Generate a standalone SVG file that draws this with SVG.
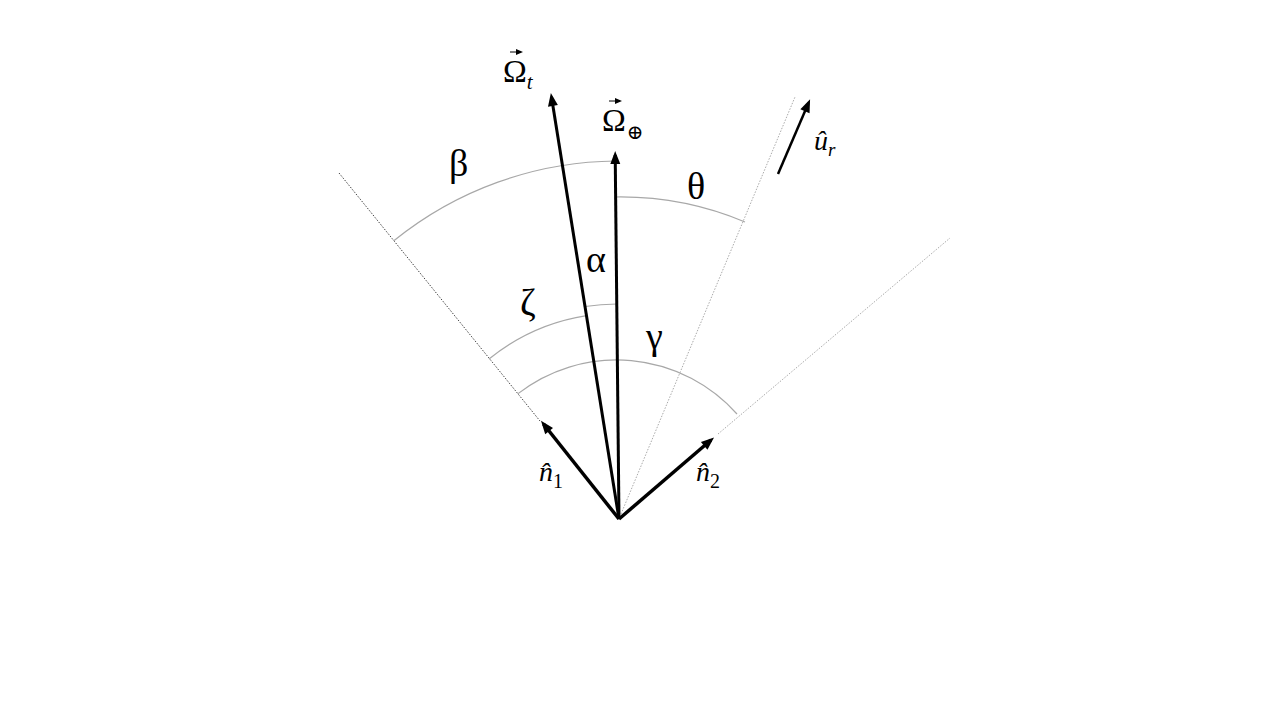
<svg xmlns="http://www.w3.org/2000/svg" width="1280" height="720" viewBox="0 0 1280 720">
<style>
.arc{fill:none;stroke:#a8a8a8;stroke-width:1.2}
.vec{stroke:#000;fill:none}
.lbl{font-family:'Times New Roman','Liberation Serif','DejaVu Serif',serif;fill:#000}
</style>
<defs>
<marker id="ah" markerUnits="userSpaceOnUse" markerWidth="14" markerHeight="10" refX="9" refY="5" orient="auto" overflow="visible">
<path d="M0,0 L13,5 L0,10 z" fill="#000"/>
</marker>
<marker id="ahs" markerUnits="userSpaceOnUse" markerWidth="8" markerHeight="6" refX="5" refY="3" orient="auto" overflow="visible">
<path d="M0,0 L7,3 L0,6 z" fill="#000"/>
</marker>
</defs>
<rect x="0" y="0" width="1280" height="720" fill="#fff"/>
<g id="guides" fill="none" stroke-width="1" stroke-dasharray="1.5,1.5">
<line stroke="#444" x1="339" y1="173" x2="540" y2="421"/>
<line stroke="#aaa" x1="621" y1="514" x2="795" y2="97"/>
<line stroke="#aaa" x1="718" y1="434" x2="950" y2="238"/>
</g>
<g id="arcs">
<path id="arc-beta" class="arc" d="M393.8,240.8 A358,358 0 0 1 615.5,161"/>
<path id="arc-theta" class="arc" d="M616,197 A322,322 0 0 1 745,222"/>
<path id="arc-alpha" class="arc" d="M585,306.5 A215,215 0 0 1 617,304"/>
<path id="arc-zeta" class="arc" d="M489,359 A206,206 0 0 1 586.5,315.6"/>
<path id="arc-gamma" class="arc" d="M517.7,393.9 A161,161 0 0 1 737,414"/>
</g>
<g id="connectors">
<line id="vec-omega-t" class="vec" stroke-width="3" x1="619" y1="519" x2="551.5" y2="97" marker-end="url(#ah)"/>
<line id="vec-omega-e" class="vec" stroke-width="3" x1="619" y1="519" x2="615.2" y2="155" marker-end="url(#ah)"/>
<line id="vec-n1" class="vec" stroke-width="3.5" x1="619" y1="519" x2="543.5" y2="424" marker-end="url(#ah)"/>
<line id="vec-n2" class="vec" stroke-width="3.5" x1="619" y1="519" x2="711" y2="440" marker-end="url(#ah)"/>
<line id="vec-ur" class="vec" stroke-width="2.5" x1="778" y1="174" x2="808.5" y2="103" marker-end="url(#ah)"/>
</g>
<g id="label-omega-t">
<text class="lbl" x="503" y="82" font-family="Times New Roman, Liberation Serif, serif" font-size="32">Ω<tspan font-style="italic" font-size="21" dy="7">t</tspan></text>
<line class="vec" stroke-width="1" x1="510" y1="52" x2="521" y2="52" marker-end="url(#ahs)"/>
</g>
<g id="label-omega-e">
<text class="lbl" x="602" y="131" font-family="Times New Roman, Liberation Serif, serif" font-size="32">Ω<tspan font-size="20" dy="8" dx="1">⊕</tspan></text>
<line class="vec" stroke-width="1" x1="609" y1="101" x2="620" y2="101" marker-end="url(#ahs)"/>
</g>
<g id="label-ur">
<text class="lbl" x="814" y="150" font-family="Times New Roman, Liberation Serif, serif" font-size="28" font-style="italic">û<tspan font-size="19" dy="6">r</tspan></text>
</g>
<g id="label-n1">
<text class="lbl" x="539" y="481" font-family="Times New Roman, Liberation Serif, serif" font-size="28" font-style="italic">n̂<tspan font-style="normal" font-size="20" dy="7">1</tspan></text>
</g>
<g id="label-n2">
<text class="lbl" x="696" y="481" font-family="Times New Roman, Liberation Serif, serif" font-size="28" font-style="italic">n̂<tspan font-style="normal" font-size="20" dy="7">2</tspan></text>
</g>
<g id="greek">
<text id="label-beta" class="lbl" x="449" y="176" font-family="Times New Roman, Liberation Serif, serif" font-size="38">β</text>
<text id="label-theta" class="lbl" x="687" y="199" font-family="Times New Roman, Liberation Serif, serif" font-size="38">θ</text>
<text id="label-alpha" class="lbl" x="586" y="272" font-family="Times New Roman, Liberation Serif, serif" font-size="38">α</text>
<text id="label-zeta" class="lbl" x="520" y="315" font-family="Times New Roman, Liberation Serif, serif" font-size="38">ζ</text>
<text id="label-gamma" class="lbl" x="646" y="349" font-family="Times New Roman, Liberation Serif, serif" font-size="38">γ</text>
</g>
</svg>
